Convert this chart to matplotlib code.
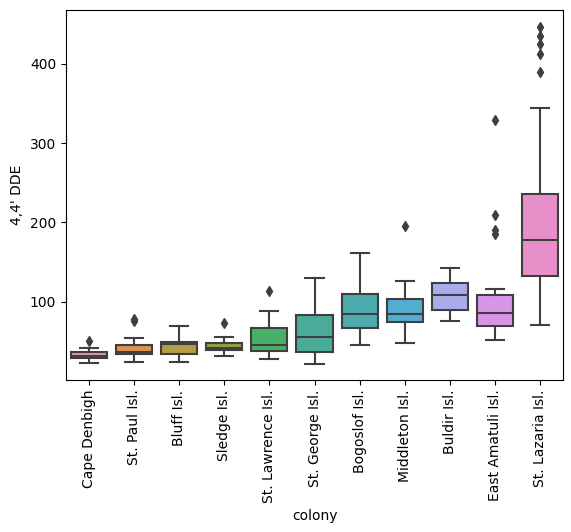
import matplotlib
matplotlib.use("Agg")
import matplotlib.pyplot as plt
import seaborn as sns

# colonies in plot order
colonies = ["Cape Denbigh", "St. Paul Isl.", "Bluff Isl.", "Sledge Isl.",
            "St. Lawrence Isl.", "St. George Isl.", "Bogoslof Isl.",
            "Middleton Isl.", "Buldir Isl.", "East Amatuli Isl.", "St. Lazaria Isl."]

# box statistics (4,4' DDE)
whislo = [23, 24, 24, 32, 28, 22, 46, 48, 76, 52, 71]
q1 = [29, 34, 34, 39, 38, 37, 67, 75, 90, 70, 133]
med = [32, 37, 47, 42, 46, 56, 84, 84, 108, 86, 178]
q3 = [37, 46, 49, 48, 67, 83, 110, 104, 124, 108, 236]
whishi = [42, 54, 69, 55, 88, 130, 162, 126, 142, 116, 345]
fliers = [[51], [76, 78], [], [73], [114], [], [], [195], [],
          [186, 190, 209, 329], [390, 412, 425, 435, 447]]

stats = []
for i, name in enumerate(colonies):
    stats.append(dict(label=name, whislo=whislo[i], q1=q1[i], med=med[i],
                      q3=q3[i], whishi=whishi[i], fliers=fliers[i]))

colors = [sns.desaturate(c, 0.75) for c in sns.husl_palette(len(colonies), l=.7)]
gray = "#3f3f3f"

fig = plt.figure(figsize=(5.71, 5.32), dpi=100)
ax = fig.add_axes([0.1156, 0.2857, 0.8704, 0.6955])

bp = ax.bxp(stats, positions=range(len(colonies)), widths=0.8, patch_artist=True,
            capwidths=0.4,
            boxprops=dict(edgecolor=gray, linewidth=1.5),
            whiskerprops=dict(color=gray, linewidth=1.5),
            capprops=dict(color=gray, linewidth=1.5),
            medianprops=dict(color=gray, linewidth=1.5),
            flierprops=dict(marker="d", markerfacecolor=gray, markeredgecolor=gray,
                            markersize=5))
for patch, c in zip(bp["boxes"], colors):
    patch.set_facecolor(c)

ax.set_xlim(-0.5, len(colonies) - 0.5)
ax.set_ylim(1.3, 468)
ax.set_yticks([100, 200, 300, 400])
ax.set_xticks(range(len(colonies)))
ax.set_xticklabels(colonies, rotation=90)
ax.set_xlabel("colony")
ax.set_ylabel("4,4' DDE")

fig.savefig("out.png", dpi=100)
